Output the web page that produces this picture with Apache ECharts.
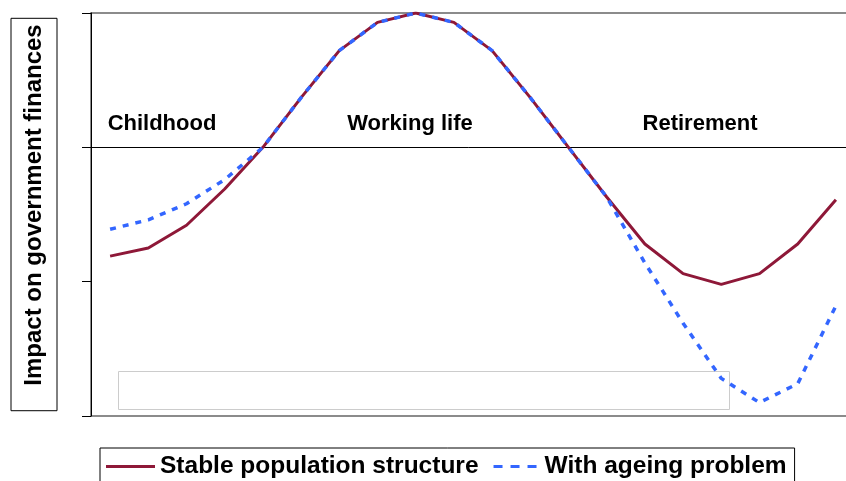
<!DOCTYPE html>
<html>
<head>
<meta charset="utf-8">
<script src="https://cdn.jsdelivr.net/npm/echarts@6/dist/echarts.min.js"></script>
<style>
  html, body { margin: 0; padding: 0; background: #fff; }
  #chart { width: 846px; height: 481px; }
</style>
</head>
<body>
<div id="chart"></div>
<script>
  // life stages, one category per age band
  var ages = ['1','2','3','4','5','6','7','8','9','10','11','12','13','14','15','16','17','18','19','20'];
  var stable = [-0.81,-0.75,-0.58,-0.31,0.0,0.37,0.72,0.93,1.0,0.93,0.72,0.37,0.0,-0.37,-0.72,-0.94,-1.02,-0.94,-0.72,-0.39];
  var ageing = [-0.61,-0.54,-0.42,-0.24,0.0,0.37,0.72,0.93,1.0,0.93,0.72,0.37,0.0,-0.37,-0.86,-1.31,-1.72,-1.90,-1.76,-1.18];
  var stages = [{name:'Childhood', x:162}, {name:'Working life', x:410}, {name:'Retirement', x:700}];

  var font = "'Liberation Sans', Arial, sans-serif";
  var chart = echarts.init(document.getElementById('chart'));

  var graphics = stages.map(function (s) {
    return {
      type: 'text', x: s.x, y: 113, z: 10,
      style: { text: s.name, font: 'bold 22px ' + font, fill: '#000', textAlign: 'center' }
    };
  });
  graphics.push({
    type: 'rect', z: 1,
    shape: { x: 118.5, y: 371.5, width: 611, height: 38 },
    style: { fill: '#fff', stroke: '#cccccc', lineWidth: 1 }
  });

  chart.setOption({
    animation: false,
    grid: {
      left: 91, top: 13, right: -9, bottom: 65,
      outerBoundsMode: 'none', containLabel: false,
      show: true, borderColor: '#666', borderWidth: 1.5
    },
    legend: {
      left: 100, top: 448,
      padding: [6, 8, 12, 6],
      borderColor: '#000', borderWidth: 1,
      itemWidth: 49, itemHeight: 3, itemGap: 15,
      textStyle: { fontFamily: font, fontWeight: 'bold', fontSize: 24.5, color: '#000' },
      data: [
        { name: 'Stable population structure', icon: 'rect' },
        { name: 'With ageing problem', icon: 'path://M0,0h9v3h-9z M17,0h9v3h-9z M34,0h9v3h-9z' }
      ]
    },
    xAxis: {
      type: 'category', data: ages, boundaryGap: true,
      axisLine: { onZero: true, lineStyle: { color: '#000', width: 1 } },
      axisTick: { length: 8, lineStyle: { color: '#444' } },
      axisLabel: { show: false }
    },
    yAxis: {
      type: 'value', min: -2, max: 1, interval: 1,
      name: 'Impact on government finances',
      nameLocation: 'middle', nameGap: 34, nameRotate: 90,
      nameTextStyle: {
        fontFamily: font, fontWeight: 'bold', fontSize: 24, color: '#000',
        borderColor: '#000', borderWidth: 1, padding: [11, 6, 11, 25]
      },
      axisLine: { show: true, lineStyle: { color: '#000', width: 1 } },
      axisTick: { show: true, length: 9, lineStyle: { color: '#000' } },
      axisLabel: { show: false },
      splitLine: { show: false }
    },
    graphic: graphics,
    series: [
      {
        name: 'Stable population structure', type: 'line', data: stable,
        symbol: 'none', z: 3,
        lineStyle: { color: '#8E1838', width: 3 }, itemStyle: { color: '#8E1838' }
      },
      {
        name: 'With ageing problem', type: 'line', data: ageing,
        symbol: 'none', z: 4,
        lineStyle: { color: '#3366FF', width: 3.5, type: [6, 7] }, itemStyle: { color: '#3366FF' }
      }
    ]
  });
</script>
</body>
</html>
